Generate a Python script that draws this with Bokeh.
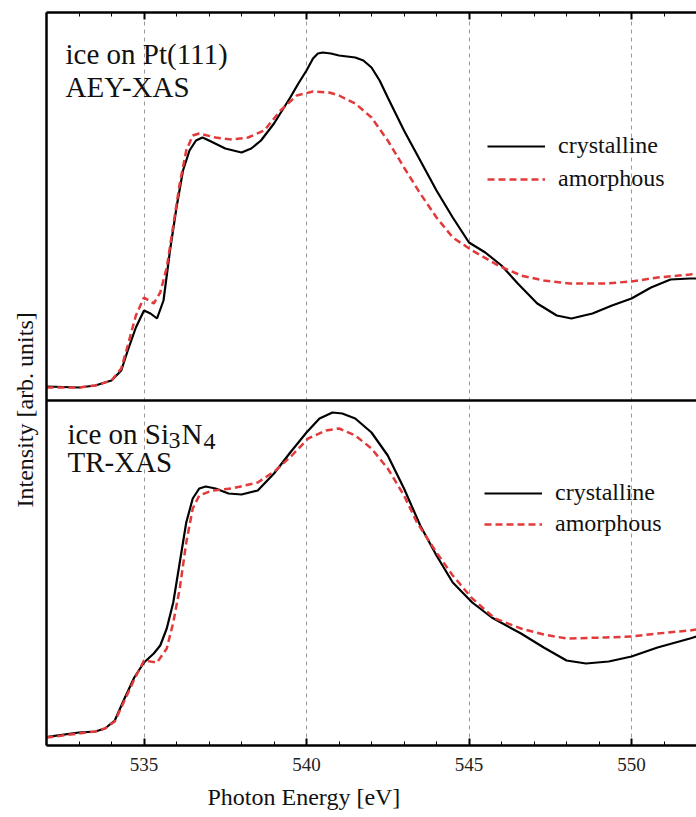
import math
from bokeh.plotting import figure
from bokeh.models import (Range1d, LinearAxis, SingleIntervalTicker, FixedTicker, Span, Label,
                          Legend, LegendItem, Title, CustomLabelingPolicy)
from bokeh.embed import file_html
from bokeh.resources import INLINE

# ---------------- data (arb. units) ----------------
# Top panel: ice on Pt(111), AEY-XAS
top_cryst_E = [532, 533, 533.5, 534, 534.3, 534.5, 534.75, 535, 535.2, 535.4, 535.6,
               535.8, 536.0, 536.2, 536.4, 536.6, 536.8, 537, 537.5, 538, 538.3, 538.6,
               539, 539.5, 539.75, 540, 540.2, 540.35, 540.5, 540.75, 541, 541.25, 541.5,
               541.75, 542, 542.25, 542.5, 543, 543.5, 544,
               544.5, 545, 545.5, 546, 546.5, 547.1, 547.7, 548.15, 548.8, 549.4, 550,
               550.6, 551.2, 551.8, 552]
top_cryst_I = [0.14, 0.13, 0.15, 0.20, 0.30, 0.50, 0.73, 0.90, 0.87, 0.82, 1.00,
               1.50, 1.93, 2.30, 2.50, 2.60, 2.63, 2.60, 2.52, 2.48, 2.52, 2.60,
               2.77, 3.03, 3.17, 3.30, 3.42, 3.47, 3.48, 3.47, 3.45, 3.44, 3.43,
               3.40, 3.33, 3.20, 3.03, 2.70, 2.40, 2.10,
               1.83, 1.58, 1.48, 1.35, 1.17, 0.97, 0.85, 0.82, 0.87, 0.95, 1.02,
               1.13, 1.21, 1.22, 1.22]
top_amor_E = [532, 533, 533.5, 534, 534.3, 534.5, 534.75, 535, 535.3, 535.5, 535.7,
              535.9, 536.1, 536.3, 536.5, 536.7, 537.2, 537.7, 538.2, 538.7, 539.2,
              539.7, 540.2, 540.7, 541.0, 541.5, 542.0, 542.5, 543.0, 543.5, 544.0,
              544.5, 545.1, 545.9, 546.6, 547.3, 548.1, 549.2, 550, 550.8, 551.8, 552]
top_amor_I = [0.13, 0.13, 0.15, 0.20, 0.32, 0.55, 0.85, 1.03, 0.97, 1.08, 1.33,
              1.75, 2.17, 2.50, 2.65, 2.67, 2.63, 2.61, 2.63, 2.70, 2.90,
              3.05, 3.09, 3.08, 3.05, 2.97, 2.83, 2.60, 2.33, 2.07, 1.83,
              1.63, 1.50, 1.35, 1.25, 1.20, 1.17, 1.17, 1.19, 1.23, 1.26, 1.27]

# Bottom panel: ice on Si3N4, TR-XAS
bot_cryst_E = [532, 532.2, 533, 533.5, 533.8, 534.1, 534.4, 534.7, 535, 535.3, 535.5,
               535.7, 535.9, 536.1, 536.3, 536.5, 536.7, 536.9, 537.2, 537.6, 538,
               538.5, 539, 539.5, 540, 540.4, 540.8, 541.1, 541.5, 542.0, 542.5, 543.0,
               543.5, 544.0, 544.5, 545.1, 545.7, 546.6, 547.3, 548.0, 548.6, 549.3,
               550, 550.8, 551.8, 552]
bot_cryst_I = [0.085, 0.093, 0.13, 0.14, 0.17, 0.25, 0.47, 0.68, 0.83, 0.92, 1.00,
               1.17, 1.43, 1.83, 2.23, 2.47, 2.57, 2.59, 2.57, 2.52, 2.51,
               2.55, 2.72, 2.93, 3.13, 3.27, 3.33, 3.32, 3.27, 3.13, 2.90, 2.57,
               2.20, 1.90, 1.63, 1.43, 1.28, 1.12, 0.98, 0.85, 0.82, 0.84,
               0.89, 0.98, 1.07, 1.09]
bot_amor_E = [532, 533, 533.5, 533.8, 534.1, 534.4, 534.7, 535, 535.4, 535.7, 535.9,
              536.1, 536.3, 536.5, 536.7, 537.1, 537.7, 538.5, 539.05, 539.55, 540.05,
              540.6, 541.0, 541.5, 542.0, 542.5, 543.0, 543.4, 544, 544.5, 545.1,
              545.8, 546.6, 547.3, 548.0, 549.2, 550, 550.8, 551.8, 552]
bot_amor_I = [0.08, 0.12, 0.14, 0.17, 0.24, 0.45, 0.66, 0.85, 0.83, 0.97, 1.23,
              1.57, 2.03, 2.37, 2.50, 2.55, 2.57, 2.63, 2.75, 2.90, 3.07,
              3.15, 3.17, 3.10, 2.97, 2.77, 2.50, 2.23, 1.93, 1.70, 1.47,
              1.27, 1.17, 1.11, 1.07, 1.08, 1.09, 1.12, 1.15, 1.16]

series_labels = ["crystalline", "amorphous"]
x_ticks_major = [535, 540, 545, 550]

# ---------------- figure ----------------
FONT = "Liberation Serif"
BOT_H = 3.45   # bottom panel height (arb. units)
TOP_H = 3.88   # top panel height

p = figure(width=696, height=817, output_backend="svg", toolbar_location=None,
           x_range=Range1d(532, 552), y_range=Range1d(0, BOT_H + TOP_H),
           min_border_left=46, min_border_right=0, min_border_top=12,
           min_border_bottom=72)
p.extra_y_ranges = {"top": Range1d(-BOT_H, TOP_H)}
p.outline_line_color = None
p.background_fill_color = "white"
p.border_fill_color = "white"

ticker = SingleIntervalTicker(interval=5, num_minor_ticks=5)

# bottom axis
xa = p.xaxis[0]
xa.ticker = ticker
xa.major_label_text_font = FONT
xa.major_label_text_font_size = "19px"
xa.major_label_text_color = "#222222"
xa.major_label_standoff = 12
xa.axis_line_width = 2.5
xa.axis_line_color = "black"
xa.major_tick_in = 7
xa.major_tick_out = 0
xa.minor_tick_in = 4
xa.minor_tick_out = 0
xa.major_tick_line_width = 2
xa.minor_tick_line_width = 1

# top axis: ticks only, labels suppressed by labeling policy
ta = LinearAxis(ticker=ticker, major_label_policy=CustomLabelingPolicy(code="return new Set()"),
                major_tick_in=7, major_tick_out=0, minor_tick_in=4, minor_tick_out=0,
                major_tick_line_width=2, axis_line_width=2.5, axis_line_color="black",
                major_label_standoff=0)
p.add_layout(ta, "above")

# left axis: only the frame line
ya = p.yaxis[0]
ya.ticker = FixedTicker(ticks=[])
ya.major_tick_in = 0
ya.major_tick_out = 0
ya.minor_tick_in = 0
ya.minor_tick_out = 0
ya.major_label_standoff = 0
ya.axis_line_width = 2.5
ya.axis_line_color = "black"

# axis titles placed as side titles so they can be positioned like the reference
p.add_layout(Title(text="Photon Energy [eV]", align="left", offset=161,
                   text_font=FONT, text_font_size="24px", text_font_style="normal",
                   text_color="#111111", standoff=16), "below")
p.add_layout(Title(text="Intensity [arb. units]", align="left", offset=238,
                   text_font=FONT, text_font_size="24px", text_font_style="normal",
                   text_color="#111111", standoff=17), "left")

# grid: dashed vertical lines at major ticks
p.xgrid.ticker = ticker
p.xgrid.grid_line_color = "#9a9a9a"
p.xgrid.grid_line_dash = "4 4"
p.xgrid.grid_line_width = 1
p.ygrid.visible = False

# panel separator
p.add_layout(Span(location=BOT_H, dimension="width", line_color="black", line_width=2.5))

RED = "#e23a3a"
r_tc = p.line(top_cryst_E, top_cryst_I, y_range_name="top", line_color="black", line_width=2.2)
r_ta = p.line(top_amor_E, top_amor_I, y_range_name="top", line_color=RED, line_width=2.5,
              line_dash="7 4")
r_bc = p.line(bot_cryst_E, bot_cryst_I, line_color="black", line_width=2.2)
r_ba = p.line(bot_amor_E, bot_amor_I, line_color=RED, line_width=2.5, line_dash="7 4")

def make_legend(rc, ra, loc, spacing):
    lg = Legend(items=[LegendItem(label=series_labels[0], renderers=[rc]),
                       LegendItem(label=series_labels[1], renderers=[ra])],
                location=loc, orientation="vertical",
                label_text_font=FONT, label_text_font_size="24px",
                label_text_color="#111111",
                glyph_width=58, glyph_height=20, label_height=20,
                label_standoff=13, spacing=spacing, padding=0, margin=0,
                border_line_color=None, background_fill_alpha=0)
    p.add_layout(lg, "center")

make_legend(r_tc, r_ta, (441, 553), 6)
make_legend(r_bc, r_ba, (438, 208), 4)

def lab(x, y, t, size="29px"):
    p.add_layout(Label(x=x, y=y, text=t, text_font=FONT, text_font_size=size,
                       text_color="#111111", text_baseline="alphabetic"))

lab(532.585, 6.92, "ice on Pt(111)")
lab(532.585, 6.59, "AEY-XAS")
lab(532.646, 3.12, "ice on Si")
lab(535.754, 3.05, "3", size="24px")
lab(536.154, 3.12, "N")
lab(536.83, 3.04, "4", size="24px")
lab(532.646, 2.84, "TR-XAS")

open("out.html", "w").write(file_html(p, INLINE))
